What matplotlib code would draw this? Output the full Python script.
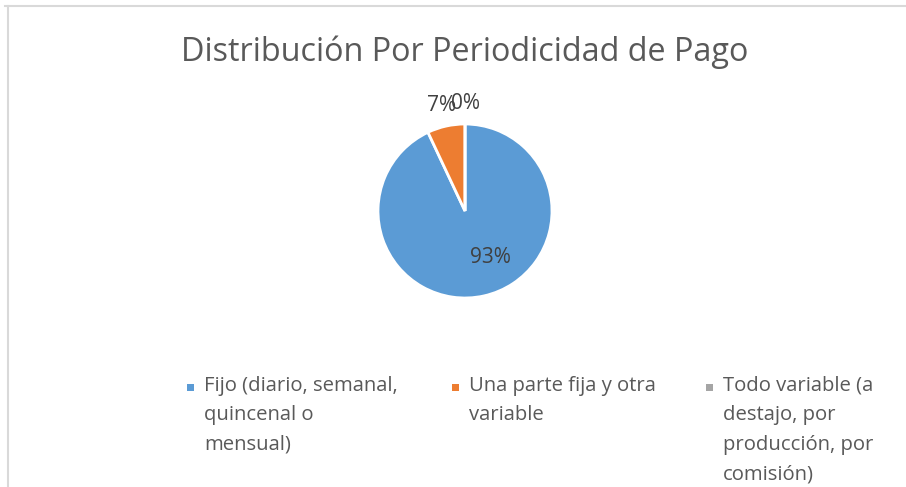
import matplotlib.pyplot as plt
from matplotlib.patches import Rectangle
from matplotlib.lines import Line2D
import numpy as np

plt.rcParams['font.family'] = ['Open Sans', 'DejaVu Sans']

title = "Distribución Por Periodicidad de Pago"
categories = ["Fijo (diario, semanal,\nquincenal o\nmensual)",
              "Una parte fija y otra\nvariable",
              "Todo variable (a\ndestajo, por\nproducción, por\ncomisión)"]
values = [93, 7, 0]
pct_labels = ["93%", "7%", "0%"]
colors = ["#5B9BD5", "#ED7D31", "#A5A5A5"]
text_color = "#404040"

W, H = 906, 487
fig = plt.figure(figsize=(W / 100, H / 100), dpi=100)

# chart frame (only top and left edges are visible in the crop)
fig.add_artist(Line2D([5 / W, 1], [1 - 6 / H, 1 - 6 / H], color="#D9D9D9", lw=1.5))
fig.add_artist(Line2D([8 / W, 8 / W], [0, 1 - 6 / H], color="#D9D9D9", lw=1.5))

fig.text(465 / W, 1 - 52 / H, title, ha="center", va="center",
         fontsize=23.3, color="#595959")

ax = fig.add_axes([(465 - 87) / W, 1 - (211 + 87) / H, 174 / W, 174 / H])
wedges, _ = ax.pie(values, colors=colors, startangle=90, counterclock=False,
                   wedgeprops=dict(edgecolor="white", linewidth=2))
ax.set_xlim(-1, 1)
ax.set_ylim(-1, 1)
ax.set_aspect("equal")

# data labels: big slice inside, small ones outside
cum = np.cumsum([0] + values)
total = sum(values)
for i, lab in enumerate(pct_labels):
    mid = 90 - 360 * (cum[i] + cum[i + 1]) / 2 / total
    if values[i] > 50:
        x, y = 0.29, -0.53
    else:
        x, y = 1.24 * np.cos(np.radians(mid)), 1.24 * np.sin(np.radians(mid))
    ax.text(x, y, lab, ha="center", va="center", fontsize=15, color=text_color,
            clip_on=False)

# legend, drawn by hand so that the wrapped labels hang from the top line
leg_x = [190, 455, 709]
for i, (lab, c) in enumerate(zip(categories, colors)):
    fig.add_artist(Rectangle(((leg_x[i] - 3) / W, 1 - 391 / H), 7 / W, 7 / H,
                             facecolor=c, edgecolor="none"))
    fig.text((leg_x[i] + 14) / W, 1 - 376 / H, lab, ha="left", va="top",
             fontsize=14.6, color="#595959", linespacing=1.63)

fig.savefig("out.png", dpi=100)
